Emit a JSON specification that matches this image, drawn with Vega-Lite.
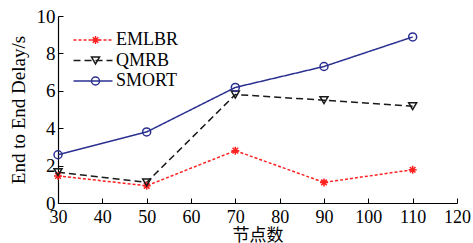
{
  "$schema": "https://vega.github.io/schema/vega-lite/v6.json",
  "width": 399,
  "height": 187,
  "autosize": {"type": "none"},
  "padding": {"left": 58, "top": 16, "right": 16, "bottom": 40},
  "background": "white",
  "config": {
    "view": {"stroke": null},
    "axis": {
      "grid": false,
      "domainColor": "#000",
      "domainWidth": 1.2,
      "tickColor": "#000",
      "tickWidth": 1,
      "labelColor": "#000",
      "titleColor": "#000",
      "labelFont": "Liberation Serif",
      "labelFontSize": 18,
      "labelFlush": false,
      "titleFontWeight": "normal"
    },
    "legend": {"labelFont": "Liberation Serif", "labelFontSize": 18, "labelColor": "#000"}
  },
  "data": {
    "values": [
      {"n": 30, "series": "EMLBR", "delay": 1.45},
      {"n": 50, "series": "EMLBR", "delay": 0.92},
      {"n": 70, "series": "EMLBR", "delay": 2.8},
      {"n": 90, "series": "EMLBR", "delay": 1.1},
      {"n": 110, "series": "EMLBR", "delay": 1.78},
      {"n": 30, "series": "QMRB", "delay": 1.65},
      {"n": 50, "series": "QMRB", "delay": 1.1},
      {"n": 70, "series": "QMRB", "delay": 5.8},
      {"n": 90, "series": "QMRB", "delay": 5.5},
      {"n": 110, "series": "QMRB", "delay": 5.18},
      {"n": 30, "series": "SMORT", "delay": 2.58},
      {"n": 50, "series": "SMORT", "delay": 3.8},
      {"n": 70, "series": "SMORT", "delay": 6.18},
      {"n": 90, "series": "SMORT", "delay": 7.3},
      {"n": 110, "series": "SMORT", "delay": 8.88}
    ]
  },
  "encoding": {
    "x": {
      "field": "n", "type": "quantitative",
      "scale": {"domain": [30, 120], "nice": false, "zero": false},
      "axis": {"values": [30, 40, 50, 60, 70, 80, 90, 100, 110, 120], "tickSize": -5, "labelPadding": 10,
               "title": "节点数", "titleFont": "Noto Sans CJK SC", "titleFontSize": 17, "titlePadding": 1}
    },
    "y": {
      "field": "delay", "type": "quantitative",
      "scale": {"domain": [0, 10], "nice": false},
      "axis": {"values": [0, 2, 4, 6, 8, 10], "tickSize": -5, "labelPadding": 8, "labelFontSize": 19,
               "title": "End to End Delay/s", "titleFont": "Liberation Serif", "titleFontSize": 19, "titlePadding": 8}
    }
  },
  "layer": [
    {
      "mark": {"type": "line", "strokeWidth": 1.5},
      "encoding": {
        "color": {
          "field": "series", "type": "nominal",
          "scale": {"range": ["#ff2020", "#1a1a1a", "#2b3090"]},
          "legend": {"orient": "none", "legendX": 26, "legendY": 15, "padding": 0, "title": null,
                     "symbolType": "M-3,0H3", "symbolSize": 169, "symbolStrokeWidth": 1.5,
                     "labelOffset": 14, "rowPadding": 2.5}
        },
        "strokeDash": {
          "field": "series", "type": "nominal",
          "scale": {"range": [[3, 2], [7, 4], [1, 0]]},
          "legend": {"orient": "none", "legendX": 26, "legendY": 15, "padding": 0, "title": null,
                     "symbolType": "M-3,0H3", "symbolSize": 169, "symbolStrokeWidth": 1.5,
                     "labelOffset": 14, "rowPadding": 2.5}
        }
      }
    },
    {
      "mark": {"type": "point", "filled": false, "size": 64, "strokeWidth": 1.5, "opacity": 1},
      "encoding": {
        "stroke": {
          "field": "series", "type": "nominal",
          "scale": {"domain": ["EMLBR", "QMRB", "SMORT"], "range": ["#ff2020", "#1a1a1a", "#2b3090"]},
          "legend": {"orient": "none", "legendX": 28.5, "legendY": 15, "padding": 0, "title": null,
                     "symbolSize": 64, "symbolStrokeWidth": 1.5, "labelExpr": "''", "labelOffset": 0, "rowPadding": 2.5}
        },
        "shape": {
          "field": "series", "type": "nominal",
          "scale": {"domain": ["EMLBR", "QMRB", "SMORT"],
                    "range": ["M-1,0L1,0M0,-1L0,1M-0.7,-0.7L0.7,0.7M-0.7,0.7L0.7,-0.7", "triangle-down", "circle"]},
          "legend": {"orient": "none", "legendX": 28.5, "legendY": 15, "padding": 0, "title": null,
                     "symbolSize": 64, "symbolStrokeWidth": 1.5, "labelExpr": "''", "labelOffset": 0, "rowPadding": 2.5}
        }
      }
    }
  ]
}
